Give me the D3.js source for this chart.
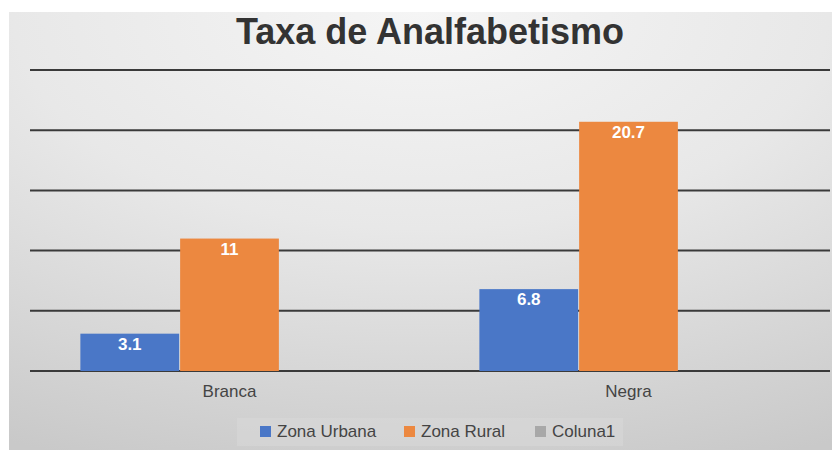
<!DOCTYPE html>
<html>
<head>
<meta charset="utf-8">
<script src="https://cdn.jsdelivr.net/npm/d3@7"></script>
<style>
  body { margin: 0; background: #fff; }
  svg { display: block; font-family: "Liberation Sans", Arial, sans-serif; }
</style>
</head>
<body>
<svg id="chart"></svg>
<script>
// chart data
const categories = ["Branca", "Negra"];
const seriesNames = ["Zona Urbana", "Zona Rural", "Coluna1"];
const zonaUrbana = [3.1, 6.8];
const zonaRural = [11, 20.7];
const coluna1 = [null, null];
const yTicks = [0, 5, 10, 15, 20, 25];
const colors = ["#4a77c7", "#ec8840", "#a8a8a8"];

const width = 832, height = 450;
const svg = d3.select("#chart").attr("width", width).attr("height", height);

// panel background
const defs = svg.append("defs");
const grad = defs.append("radialGradient").attr("id", "bg")
    .attr("cx", "50%").attr("cy", "0%").attr("r", "110%")
    .attr("fx", "50%").attr("fy", "0%");
grad.append("stop").attr("offset", "0%").attr("stop-color", "#f5f5f5");
grad.append("stop").attr("offset", "45%").attr("stop-color", "#e8e8e8");
grad.append("stop").attr("offset", "100%").attr("stop-color", "#c9c9c9");

svg.append("rect")
    .attr("x", 9).attr("y", 12)
    .attr("width", width - 9).attr("height", height - 12)
    .attr("fill", "url(#bg)");

const rows = categories.map((c, i) => ({
    cat: c,
    values: [zonaUrbana[i], zonaRural[i], coluna1[i]]
}));

const y = d3.scaleLinear().domain([0, 25]).range([371, 70]);
const x0 = d3.scaleBand().domain(categories).range([30, 828])
    .paddingInner(0.25).paddingOuter(0.125);
const x1 = d3.scaleBand().domain(seriesNames).range([0, x0.bandwidth()]);

// gridlines
svg.append("g").selectAll("line")
    .data(yTicks)
    .join("line")
    .attr("x1", 30).attr("x2", 830)
    .attr("y1", d => y(d)).attr("y2", d => y(d))
    .attr("stroke", "#3a3a3a")
    .attr("stroke-width", 2);

// bars
const groups = svg.append("g").selectAll("g")
    .data(rows)
    .join("g")
    .attr("transform", d => `translate(${x0(d.cat)},0)`);

const barData = d => d.values
    .map((v, i) => ({ name: seriesNames[i], v: v, i: i }))
    .filter(d => d.v != null);

groups.selectAll("rect")
    .data(barData)
    .join("rect")
    .attr("x", d => x1(d.name) + 0.5)
    .attr("width", x1.bandwidth() - 1)
    .attr("y", d => y(d.v))
    .attr("height", d => y(0) - y(d.v))
    .attr("fill", d => colors[d.i]);

groups.selectAll("text")
    .data(barData)
    .join("text")
    .attr("x", d => x1(d.name) + x1.bandwidth() / 2)
    .attr("y", d => y(d.v) + 16)
    .attr("text-anchor", "middle")
    .attr("fill", "#ffffff")
    .attr("font-size", 17)
    .attr("font-weight", "bold")
    .text(d => d.v);

// category labels
svg.append("g").selectAll("text")
    .data(categories)
    .join("text")
    .attr("x", d => x0(d) + x0.bandwidth() / 2)
    .attr("y", 397)
    .attr("text-anchor", "middle")
    .attr("fill", "#444")
    .attr("font-size", 17)
    .text(d => d);

// title
svg.append("text")
    .attr("x", 430).attr("y", 44)
    .attr("text-anchor", "middle")
    .attr("fill", "#333")
    .attr("font-size", 36)
    .attr("font-weight", "bold")
    .text("Taxa de Analfabetismo");

// legend
svg.append("rect")
    .attr("x", 237).attr("y", 418).attr("width", 386).attr("height", 28)
    .attr("fill", "#d9d9d9").attr("opacity", 0.5);

const legendX = [260, 404, 535];
const legend = svg.append("g").selectAll("g")
    .data(seriesNames)
    .join("g")
    .attr("transform", (d, i) => `translate(${legendX[i]},426)`);
legend.append("rect")
    .attr("width", 11).attr("height", 11)
    .attr("fill", (d, i) => colors[i]);
legend.append("text")
    .attr("x", 17).attr("y", 11)
    .attr("fill", "#444")
    .attr("font-size", 17)
    .text(d => d);
</script>
</body>
</html>
